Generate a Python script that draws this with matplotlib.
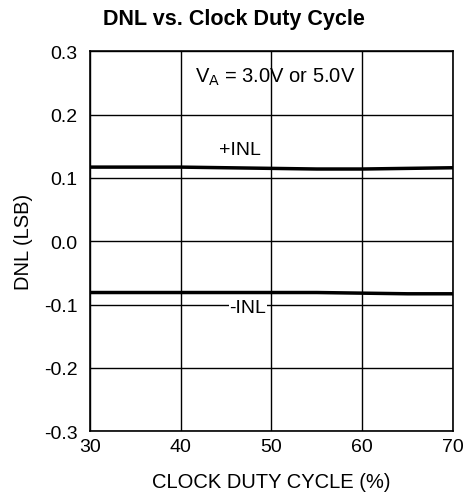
import matplotlib
matplotlib.use("Agg")
import matplotlib.pyplot as plt

plt.rcParams['font.family'] = ['Liberation Sans', 'DejaVu Sans']

# duty cycle (%) and measured INL (LSB)
duty = [30, 35, 40, 45, 50, 55, 60, 65, 70]
inl_pos = [0.117, 0.117, 0.117, 0.116, 0.115, 0.114, 0.114, 0.115, 0.116]
inl_neg = [-0.081, -0.081, -0.081, -0.081, -0.081, -0.081, -0.082, -0.083, -0.083]

xticks = [30, 40, 50, 60, 70]
yticks = [-0.3, -0.2, -0.1, 0.0, 0.1, 0.2, 0.3]

fig = plt.figure(figsize=(4.64, 5.02), dpi=100)
ax = fig.add_axes([0.194, 0.139, 0.782, 0.757])

ax.plot(duty, inl_pos, color='black', lw=2.5, zorder=3)
ax.plot(duty, inl_neg, color='black', lw=2.5, zorder=3)

ax.set_xlim(30, 70)
ax.set_ylim(-0.3, 0.3)
ax.set_xticks(xticks)
ax.set_yticks(yticks)
ax.set_yticklabels(['%.1f' % v for v in yticks])
ax.grid(True, color='black', lw=1.0)
ax.tick_params(length=0, labelsize=14)
ax.tick_params(axis='y', pad=9)
ax.tick_params(axis='x', pad=5)
for s in ax.spines.values():
    s.set_linewidth(1.2)

ax.text(50.4, 0.26, r'V$_\mathrm{A}$ = 3.0V or 5.0V', fontsize=14.5, ha='center', va='center')
ax.text(46.5, 0.145, '+INL', fontsize=14, ha='center', va='center')
ax.text(47.4, -0.104, '-INL', fontsize=14, ha='center', va='center',
        bbox=dict(facecolor='white', edgecolor='none', pad=0.5), zorder=4)

ax.set_xlabel('CLOCK DUTY CYCLE (%)', fontsize=14.5, labelpad=12)
ax.set_ylabel('DNL (LSB)', fontsize=14.5, labelpad=8)
fig.text(0.505, 0.962, 'DNL vs. Clock Duty Cycle', fontsize=15.5, fontweight='bold',
         ha='center', va='center')

fig.savefig('out.png', dpi=100)
